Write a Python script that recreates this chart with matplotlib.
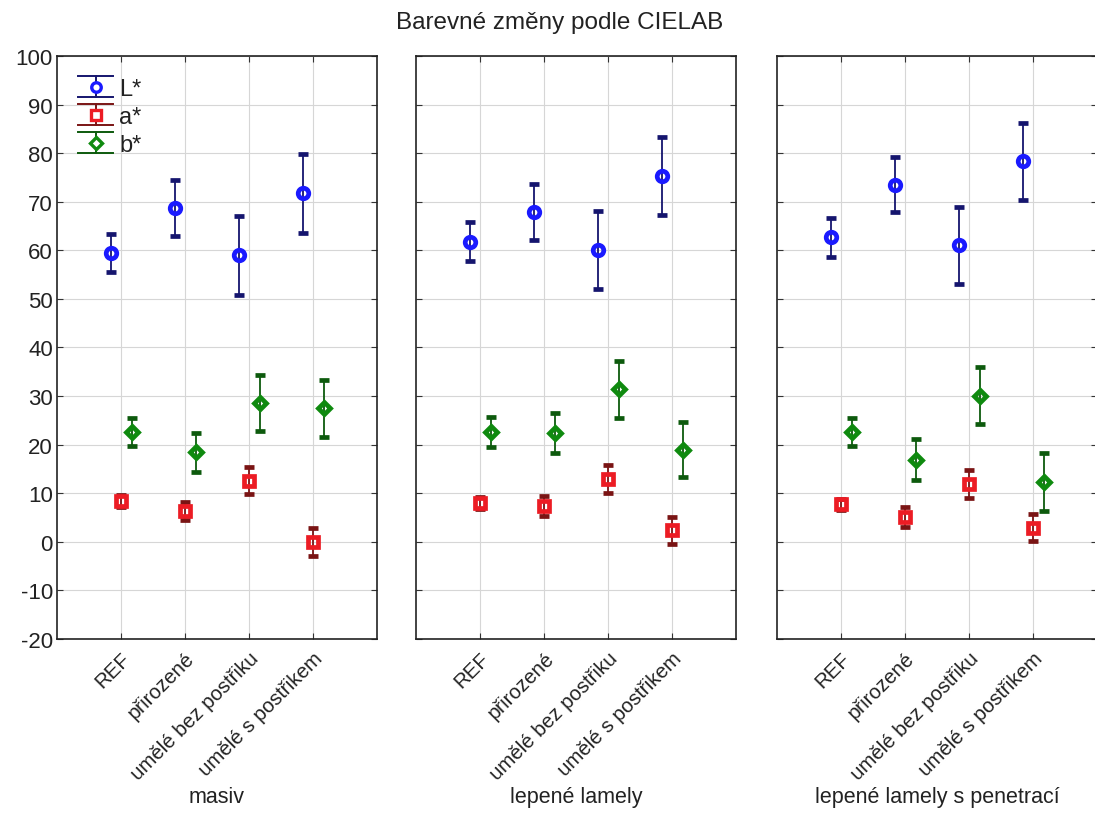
import matplotlib
matplotlib.use('Agg')
import matplotlib.pyplot as plt
from matplotlib.legend_handler import HandlerBase
from matplotlib.lines import Line2D

plt.rcParams['font.family'] = ['Liberation Sans', 'DejaVu Sans']
plt.rcParams['axes.unicode_minus'] = False

categories = ['REF', 'přirozené', 'umělé bez postřiku', 'umělé s postřikem']
groups = ['masiv', 'lepené lamely', 'lepené lamely s penetrací']

# means and error half-widths, one row per panel
L_mean = [[59.4, 68.7, 59.0, 71.7], [61.8, 67.9, 60.0, 75.3], [62.7, 73.5, 61.0, 78.3]]
L_err = [[3.9, 5.7, 8.1, 8.1], [4.1, 5.7, 8.0, 8.0], [4.0, 5.7, 8.0, 8.0]]
a_mean = [[8.4, 6.3, 12.6, 0.0], [8.0, 7.4, 12.9, 2.4], [7.7, 5.1, 11.9, 2.9]]
a_err = [[1.2, 1.9, 2.8, 2.85], [1.2, 2.1, 2.9, 2.8], [1.2, 2.1, 2.8, 2.8]]
b_mean = [[22.6, 18.4, 28.6, 27.5], [22.6, 22.4, 31.4, 19.0], [22.6, 16.9, 30.1, 12.3]]
b_err = [[2.9, 4.0, 5.8, 5.9], [3.0, 4.1, 5.9, 5.7], [2.9, 4.2, 5.8, 5.9]]

series = [
    ('L*', L_mean, L_err, 'o', 7.6, '#1a1aff', '#15156e', -0.15),
    ('a*', a_mean, a_err, 's', 7.5, '#ec1c24', '#7a1414', 0.0),
    ('b*', b_mean, b_err, 'D', 6.3, '#0f8a0f', '#0d5a0d', 0.17),
]


class ErrHandler(HandlerBase):
    def __init__(self, ecolor):
        super().__init__()
        self.ecolor = ecolor

    def create_artists(self, legend, orig_handle, xdescent, ydescent,
                       width, height, fontsize, trans):
        x0 = -xdescent
        x1 = x0 + width
        y0 = -ydescent
        y1 = y0 + height
        xm = (x0 + x1) / 2
        ym = (y0 + y1) / 2
        top = Line2D([x0, x1], [y1, y1], color=self.ecolor, lw=1.4)
        bot = Line2D([x0, x1], [y0, y0], color=self.ecolor, lw=1.4)
        vert = Line2D([xm, xm], [y0, y1], color=self.ecolor, lw=1.4)
        mk = Line2D([xm], [ym], linestyle='none',
                    marker=orig_handle.get_marker(),
                    markersize=orig_handle.get_markersize() * 0.9,
                    markeredgecolor=orig_handle.get_markeredgecolor(),
                    markerfacecolor='white', markeredgewidth=2.4)
        arts = [vert, top, bot, mk]
        for a in arts:
            a.set_transform(trans)
        return arts


fig = plt.figure(figsize=(10.95, 8.37), dpi=100)
lefts = [0.052, 0.380, 0.7096]
axes = []
for i, left in enumerate(lefts):
    ax = fig.add_axes([left, 0.2354, 0.2922, 0.6965])
    axes.append(ax)
    x = list(range(1, len(categories) + 1))
    for label, mean, err, marker, ms, col, ecol, off in series:
        ax.errorbar([v + off for v in x], mean[i], yerr=err[i], fmt=marker,
                    ms=ms, mfc='none', mec=col, mew=3.4, ecolor=ecol,
                    elinewidth=1.3, capsize=3.5, capthick=1.1, zorder=3)
    ax.set_xlim(0, 5)
    ax.set_ylim(-20, 100)
    ax.set_yticks(range(-20, 101, 10))
    ax.set_xticks(x)
    ax.set_xticklabels(categories, rotation=45, ha='right',
                       rotation_mode='anchor', color='#222222')
    ax.tick_params(direction='in', top=True, right=True, length=4,
                   color='#333333', labelcolor='#222222')
    ax.tick_params(axis='x', pad=7, labelsize=14.8)
    ax.tick_params(axis='y', pad=3, labelsize=16)
    if i > 0:
        ax.tick_params(labelleft=False)
    ax.grid(True, color='#d6d6d6', lw=0.8)
    ax.set_axisbelow(True)
    for s in ax.spines.values():
        s.set_color('#222222')
        s.set_linewidth(1.2)
    ax.text(0.5, -0.27, groups[i], transform=ax.transAxes, ha='center',
            va='center', fontsize=15.5, color='#222222')

# legend with error-bar style handles
proxies = []
hmap = {}
for label, mean, err, marker, ms, col, ecol, off in series:
    p = Line2D([], [], linestyle='none', marker=marker, markersize=ms,
               markeredgecolor=col, label=label)
    proxies.append(p)
    hmap[p] = ErrHandler(ecol)
axes[0].legend(handles=proxies, handler_map=hmap, loc='upper left',
               bbox_to_anchor=(0.066, 0.965), frameon=False, fontsize=17,
               borderpad=0, borderaxespad=0, handlelength=1.5,
               handleheight=0.95, labelspacing=0.2, handletextpad=0.25,
               labelcolor='#222222')

fig.text(0.511, 0.972, 'Barevné změny podle CIELAB', ha='center',
         va='center', fontsize=17.5, color='#222222')

fig.savefig('out.png', dpi=100)
